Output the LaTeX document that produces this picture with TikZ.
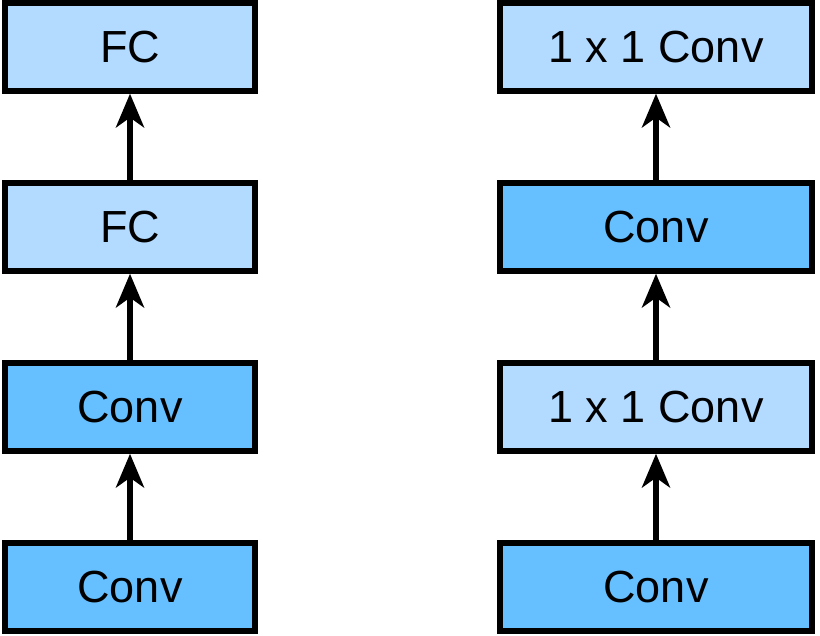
\documentclass[tikz,border=0pt]{standalone}
\usepackage{fontspec}
\setmainfont{Liberation Sans}
\usepackage{tikz}
\usetikzlibrary{arrows.meta}
\definecolor{lightblue}{RGB}{179,218,255}
\definecolor{darkblue}{RGB}{102,191,255}

\begin{document}
\begin{tikzpicture}[x=0.025cm,y=0.025cm]
        \useasboundingbox (0,0) rectangle (820,636);
        \begin{scope}[line width=4pt,node distance=4.5cm,
            box/.style={rectangle,draw,line width=4pt,inner sep=0pt,minimum height=2.2cm,font=\fontsize{32}{38}\selectfont},
            light node/.style={box,fill=lightblue},
            dark node/.style={box,fill=darkblue},
            link/.style={-{Stealth[length=24pt,width=20pt,inset=7pt]},line width=4pt}]
        % left column
        \node[dark node,minimum width=6.25cm] (1) at (130,49) {Conv};
        \node[dark node,minimum width=6.25cm] (2) [above of=1] {Conv};
        \node[light node,minimum width=6.25cm] (3) [above of=2] {FC};
        \node[light node,minimum width=6.25cm] (4) [above of=3] {FC};
        % right column
        \node[dark node,minimum width=7.8cm] (5) at (656,49) {Conv};
        \node[light node,minimum width=7.8cm] (6) [above of=5] {1 x 1 Conv};
        \node[dark node,minimum width=7.8cm] (7) [above of=6] {Conv};
        \node[light node,minimum width=7.8cm] (8) [above of=7] {1 x 1 Conv};
        \path[link]
        (1) edge (2)
        (2) edge (3)
        (3) edge (4)
        (5) edge (6)
        (6) edge (7)
        (7) edge (8);
        \end{scope}
    \end{tikzpicture}
\end{document}
